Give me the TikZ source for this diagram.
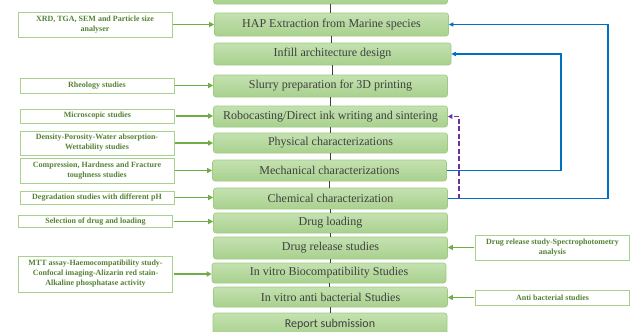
\documentclass[tikz,border=0pt]{standalone}
\usepackage{fontspec}
\setmainfont{Liberation Serif}
\newfontfamily\reportfont{Carlito}
\usetikzlibrary{arrows.meta}

\definecolor{stagetop}{HTML}{C4E1B1}
\definecolor{stagebot}{HTML}{A9D18E}
\definecolor{stageline}{HTML}{9DCB80}
\definecolor{stagetext}{HTML}{404040}
\definecolor{studyline}{HTML}{A9D18E}
\definecolor{studytext}{HTML}{548235}
\definecolor{feedgreen}{HTML}{70AD47}
\definecolor{loopblue}{HTML}{0070C0}
\definecolor{redopurple}{HTML}{7030A0}

\tikzset{
  stage/.style={rectangle, rounded corners=2.5pt, draw=stageline, line width=0.6pt,
    top color=stagetop, bottom color=stagebot, minimum width=234pt, minimum height=#1,
    inner sep=0pt, text=stagetext, font=\fontsize{12}{14}\selectfont},
  study/.style={rectangle, draw=studyline, line width=0.7pt, fill=white, align=center,
    minimum width=154pt, minimum height=#1, inner sep=0pt, text=studytext,
    font=\bfseries\fontsize{8}{10}\selectfont},
  link/.style={draw=stagetext, line width=0.6pt},
  feed/.style={draw=feedgreen, line width=1.5pt, -{Triangle[length=5pt,width=5pt]}},
  loopback/.style={draw=loopblue, line width=1.3pt, -{Triangle[length=4.5pt,width=4pt]}},
  redo/.style={draw=redopurple, line width=1.5pt, dash pattern=on 5pt off 2.5pt,
    -{Triangle[length=4.5pt,width=4.5pt]}}
}

\begin{document}
\begin{tikzpicture}[x=1pt, y=-1pt]
      \useasboundingbox (0,0) rectangle (635,332);

      \node[stage=22] (start) at (330.5,-7) {};
      \node[stage=23] (hap) at (331.5,24.5) {HAP Extraction from Marine species};
      \node[stage=22, minimum width=237] (infill) at (332.5,54) {Infill architecture design};
      \node[stage=22] (slurry) at (330.5,86) {Slurry preparation for 3D printing};
      \node[stage=21] (robo) at (330.5,116.5) {Robocasting/Direct ink writing and sintering};
      \node[stage=20] (phys) at (330.5,143) {Physical characterizations};
      \node[stage=21] (mech) at (329.5,170.5) {Mechanical characterizations};
      \node[stage=21] (chem) at (330.5,198.5) {Chemical characterization};
      \node[stage=20] (load) at (330.5,223) {Drug loading};
      \node[stage=22] (release) at (330.5,248) {Drug release studies};
      \node[stage=20] (bio) at (329,273) {In vitro Biocompatibility Studies};
      \node[stage=20] (anti) at (330.5,297) {In vitro anti bacterial Studies};
      \node[stage=22, font=\reportfont\fontsize{12}{14}\selectfont] (report) at (330,324) {Report submission};

      \node[study=25] (xrd) at (95,24.5) {XRD, TGA, SEM and Particle size\\analyser};
      \node[study=15] (rheo) at (97,85.5) {Rheology studies};
      \node[study=14] (micro) at (97.5,116) {Microscopic studies};
      \node[study=24] (dens) at (97,143) {Density-Porosity-Water absorption-\\Wettability studies};
      \node[study=25] (comp) at (97,170.5) {Compression, Hardness and Fracture\\toughness studies};
      \node[study=13] (degr) at (97,197.5) {Degradation studies with different pH};
      \node[study=12] (select) at (95.5,221.5) {Selection of drug and loading};
      \node[study=36] (mtt) at (95.5,274) {MTT assay-Haemocompatibility study-\\Confocal imaging-Alizarin red stain-\\Alkaline phosphatase activity};

      \node[study=25] (spectro) at (552.5,247.5) {Drug release study-Spectrophotometry\\analysis};
      \node[study=15] (bact) at (552.5,297.5) {Anti bacterial studies};

      \coordinate (innerturn) at (561,0);
      \coordinate (outerturn) at (608,0);
      \coordinate (backturn) at (459,0);

      \foreach \a/\b in {start/hap, hap/infill, infill/slurry, slurry/robo, robo/phys, phys/mech,
          mech/chem, chem/load, load/release, release/bio, bio/anti, anti/report}
        \draw[link] (\a.south) -- (\a.south |- \b.north);

      \foreach \s/\t in {xrd/hap, rheo/slurry, micro/robo, dens/phys, comp/mech, degr/chem,
          select/load, mtt/bio}
        \draw[feed] ([xshift=1pt]\s.east) -- (\s.east -| \t.west);
      \draw[feed] ([xshift=-1pt]spectro.west) -- (spectro.west -| release.east);
      \draw[feed] ([xshift=-1pt]bact.west) -- (bact.west -| anti.east);

      \draw[loopback] (mech.east) -- (mech.east -| innerturn) |- (infill.east);
      \draw[loopback] (chem.east) -- (chem.east -| outerturn) |- (hap.east);
      \draw[redo] (chem.east -| backturn) |- (robo.east);

\end{tikzpicture}
\end{document}
